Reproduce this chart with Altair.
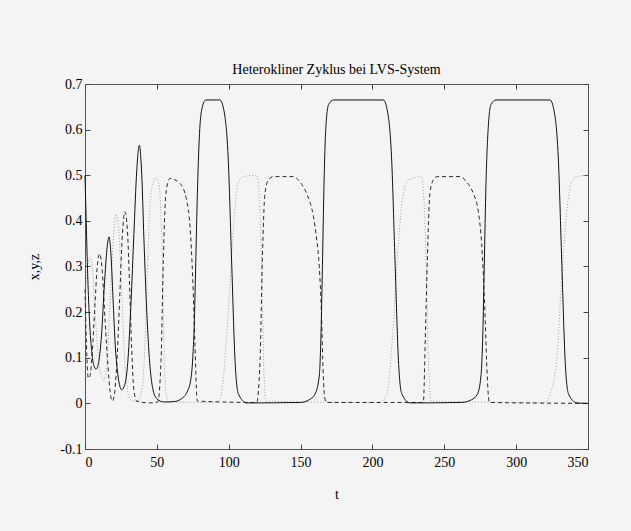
import altair as alt
import pandas as pd

title_text = "Heterokliner Zyklus bei LVS-System"
x_title = "t"
y_title = "x,y,z"
x_ticks = [0, 50, 100, 150, 200, 250, 300, 350]
y_ticks = [-0.1, 0, 0.1, 0.2, 0.3, 0.4, 0.5, 0.6, 0.7]

# solid curve (x)
x_pts = [
    (0, 0.5), (1, 0.38), (2, 0.27), (3, 0.19), (4.5, 0.12), (6, 0.085), (7.7, 0.075),
    (9.5, 0.09), (11.5, 0.15), (13.5, 0.26), (15.5, 0.345), (16.7, 0.365), (18, 0.33),
    (19.5, 0.23), (21, 0.13), (23, 0.06), (25.5, 0.03), (28, 0.045), (30, 0.1),
    (32, 0.22), (34, 0.37), (36, 0.51), (37.8, 0.566), (39.5, 0.5), (41, 0.36),
    (43, 0.2), (45, 0.09), (47, 0.035), (50, 0.01), (55, 0.003), (62, 0.004),
    (67, 0.01), (71, 0.025), (73.5, 0.05), (75, 0.1), (76, 0.17), (77, 0.3),
    (78.2, 0.46), (79.5, 0.58), (81, 0.64), (84, 0.665), (93.9, 0.665), (97.4, 0.628),
    (99.7, 0.533), (102, 0.314), (104.4, 0.094), (106.7, 0.021), (112.5, 0.001),
    (150, 0.002), (156, 0.008), (160, 0.02), (163, 0.06), (164.2, 0.15), (165.2, 0.3),
    (166.3, 0.48), (167.5, 0.6), (169.5, 0.655), (173, 0.665), (207.6, 0.665),
    (211.1, 0.628), (213.4, 0.533), (215.7, 0.314), (218.1, 0.094), (220.4, 0.021),
    (226.2, 0.001), (262, 0.002), (269, 0.008), (273, 0.02), (275.5, 0.06),
    (276.8, 0.15), (277.8, 0.3), (279, 0.48), (280.5, 0.6), (282.5, 0.655),
    (286, 0.665), (323.6, 0.665), (327.1, 0.628), (329.4, 0.533), (331.7, 0.314),
    (334.1, 0.094), (336.4, 0.021), (342.2, 0.001), (350, 0.0),
]

# dashed curve (y)
y_pts = [
    (0, 0.25), (1, 0.13), (2.3, 0.055), (3.5, 0.06), (5, 0.11), (7, 0.22), (8.5, 0.3),
    (10.2, 0.328), (12, 0.29), (14, 0.18), (16, 0.08), (17.5, 0.025), (19, 0.005),
    (20.5, 0.02), (22, 0.08), (24, 0.22), (26, 0.37), (27.8, 0.42), (29.5, 0.38),
    (31, 0.26), (32.5, 0.12), (34, 0.03), (36, 0.005), (45, 0.001), (50.6, 0.003),
    (52.9, 0.094), (54.5, 0.314), (56.3, 0.46), (59, 0.493), (66.1, 0.482),
    (70.7, 0.445), (73.1, 0.387), (74.9, 0.277), (76.5, 0.13), (78.1, 0.005),
    (119.5, 0.002), (121.8, 0.094), (123.4, 0.314), (125.2, 0.46), (127.6, 0.49),
    (131, 0.497), (145, 0.497), (149.6, 0.485), (154.2, 0.46), (158.9, 0.41),
    (161.2, 0.36), (163, 0.3), (164.5, 0.2), (165.5, 0.09), (166.5, 0.02), (168, 0.002),
    (235.4, 0.002), (237, 0.17), (238.2, 0.314), (240, 0.46), (242.4, 0.49),
    (245, 0.497), (261, 0.497), (265.6, 0.485), (270.2, 0.46), (273.7, 0.42),
    (276, 0.35), (278.3, 0.2), (279.9, 0.058), (281.3, 0.002), (350, 0.0),
]

# dotted curve (z)
z_pts = [
    (0, 0.22), (1.5, 0.29), (3.5, 0.32), (5, 0.3), (7, 0.2), (9, 0.11), (11, 0.065),
    (13, 0.05), (15, 0.08), (17, 0.19), (19.5, 0.35), (21.7, 0.415), (23.5, 0.38),
    (25.5, 0.25), (27.5, 0.1), (29.5, 0.03), (31.5, 0.008), (36, 0.004), (39, 0.02),
    (41, 0.08), (43, 0.25), (45, 0.42), (47, 0.48), (49.5, 0.495), (51.5, 0.48),
    (53, 0.4), (54, 0.3), (55, 0.12), (56.5, 0.02), (58, 0.003), (90, 0.002),
    (94, 0.01), (96.3, 0.058), (99.7, 0.2), (103.2, 0.38), (106.7, 0.485),
    (110, 0.497), (119.5, 0.5), (121, 0.47), (122.5, 0.35), (123.6, 0.2),
    (124.6, 0.06), (126, 0.005), (205, 0.002), (210, 0.02), (214.5, 0.17),
    (218, 0.35), (221.5, 0.46), (225, 0.49), (234.3, 0.497), (235.8, 0.45),
    (237.3, 0.314), (238.9, 0.094), (241, 0.005), (320, 0.002), (323.5, 0.02),
    (328.2, 0.094), (331.7, 0.277), (335.2, 0.42), (338.6, 0.485), (342.1, 0.497),
    (350, 0.5),
]

rows = []
for name, pts in [("x", x_pts), ("y", y_pts), ("z", z_pts)]:
    for i, (t, v) in enumerate(pts):
        rows.append({"t": t, "v": v, "s": name, "o": i})
df = pd.DataFrame(rows)

FONT = "Liberation Serif"
xs = alt.Scale(domain=[0, 350], nice=False, zero=False)
ys = alt.Scale(domain=[-0.1, 0.7], nice=False, zero=False)

common_axis = dict(domain=False, grid=False, tickSize=5, offset=-5, tickColor="#444",
                   tickWidth=1, labelFont=FONT, labelFontSize=14, labelColor="#000",
                   titleFont=FONT, titleFontSize=14, titleFontWeight="normal",
                   titleColor="#000")

x_axis_main = alt.Axis(orient="bottom", values=x_ticks, labelExpr="toString(datum.value)",
                       labelPadding=6, title=x_title, titlePadding=18, **common_axis)
y_axis_main = alt.Axis(orient="left", values=y_ticks, labelExpr="toString(datum.value)",
                       labelPadding=3, title=y_title, titlePadding=18, **common_axis)
x_axis_top = alt.Axis(orient="top", values=x_ticks, labels=False, title=None, **common_axis)
y_axis_right = alt.Axis(orient="right", values=y_ticks, labels=False, title=None, **common_axis)


def series(name, color, dash, xa=None, ya=None, opacity=1.0):
    mark_kw = dict(color=color, strokeWidth=1, interpolate="monotone", opacity=opacity)
    if dash:
        mark_kw["strokeDash"] = dash
    return (
        alt.Chart(df)
        .transform_filter(alt.datum.s == name)
        .mark_line(**mark_kw)
        .encode(
            x=alt.X("t:Q", scale=xs, axis=xa),
            y=alt.Y("v:Q", scale=ys, axis=ya),
            order="o:Q",
        )
    )


dotted = series("z", "#a0a0a0", [1, 2])
dashed = series("y", "#2a2a2a", [4, 3])
solid = series("x", "#111111", None, x_axis_main, y_axis_main)
frame = series("x", "#111111", None, x_axis_top, y_axis_right, opacity=0)

chart = (
    alt.layer(dotted, dashed, solid, frame)
    .resolve_axis(x="independent", y="independent")
    .properties(
        width=503,
        height=365,
        title=alt.TitleParams(title_text, font=FONT, fontSize=14, fontWeight="normal",
                              color="#000", anchor="middle", frame="group", offset=0),
        autosize=alt.AutoSizeParams(type="none"),
        padding={"left": 85, "top": 84, "right": 43, "bottom": 82},
        background="#f4f4f4",
    )
    .configure_view(stroke="#555555", strokeWidth=1, fill="#f4f4f4")
)

chart.save("out.html", embed_options={"renderer": "svg", "actions": False})
